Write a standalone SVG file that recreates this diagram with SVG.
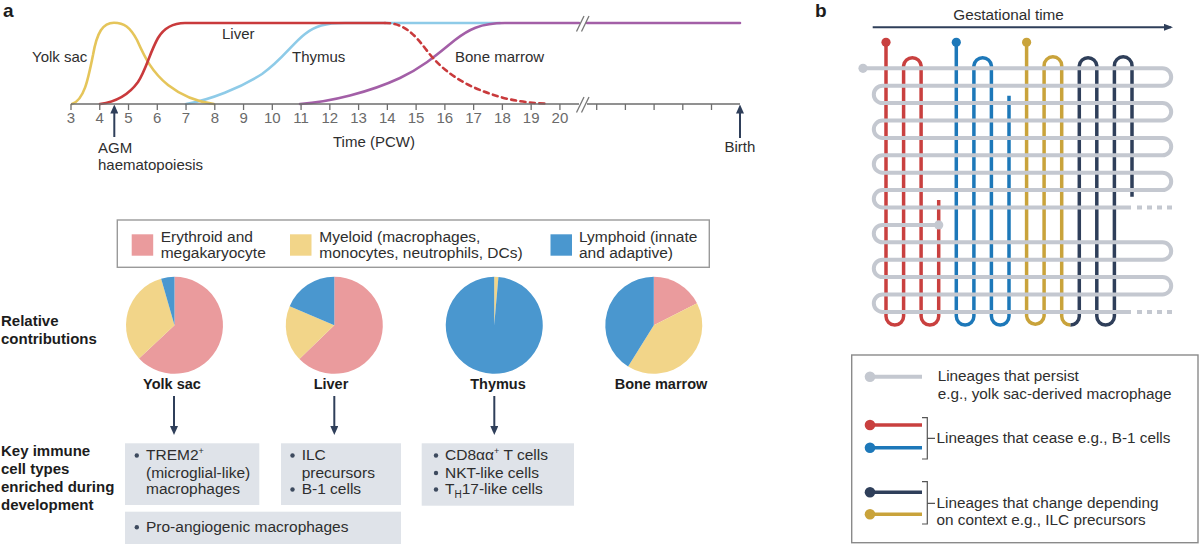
<svg xmlns="http://www.w3.org/2000/svg" width="1200" height="544" viewBox="0 0 1200 544">
<style>
  text { font-family: "Liberation Sans", Arial, sans-serif; fill: #2e2e2e; }
  .lbl { font-size: 15px; }
  .num { font-size: 15px; fill: #6a6a6a; text-anchor: middle; }
  .leg { font-size: 15.5px; }
  .bx { font-size: 15.5px; }
  .lb { font-size: 15.3px; }
  .bold { font-weight: bold; fill: #1c1c1c; font-size: 15px; }
  .pl { font-weight: bold; fill: #1c1c1c; font-size: 14.5px; text-anchor: middle; }
  .panel { font-weight: bold; fill: #1c1c1c; font-size: 19px; }
  .axis { stroke: #6e6e6e; stroke-width: 1.5; fill: none; }
  .tick { stroke: #6e6e6e; stroke-width: 1.3; }
  .brk { stroke: #777; stroke-width: 1.3; }
  .curve { fill: none; stroke-width: 2.6; stroke-linecap: round; }
  .arr { stroke: #2f3f5a; stroke-width: 2; fill: none; }
  .box { fill: #dfe3e9; }
  .bul { fill: #3d4a5e; }
  .pink { fill: #ea9b9d; }
  .yel { fill: #f2d589; }
  .blu { fill: #4a97cf; }
  .grey { stroke: #c4c8d0; stroke-width: 4; fill: none; }
  .lin { stroke-width: 3.5; fill: none; }
  .brkt { stroke: #555; stroke-width: 1.2; fill: none; }
</style>
<defs>
  <marker id="ah" viewBox="0 0 9 8" refX="6" refY="4" markerWidth="9" markerHeight="8" markerUnits="userSpaceOnUse" orient="auto">
    <path d="M0 0 L9 4 L0 8 z" fill="#2f3f5a"/>
  </marker>
  <marker id="ah2" viewBox="0 0 9 7" refX="7" refY="3.5" markerWidth="9" markerHeight="7" markerUnits="userSpaceOnUse" orient="auto">
    <path d="M0 0 L9 3.5 L0 7 z" fill="#2f3f5a"/>
  </marker>
</defs>
<rect width="1200" height="544" fill="#ffffff"/>

<!-- Panel labels -->
<text class="panel" x="3" y="17">a</text>
<text class="panel" x="815" y="17">b</text>

<!-- Timeline -->
<g id="timeline">
  <path class="curve" stroke="#8ecbe8" d="M186 104 C210 100 240 88 262 74 C282 60 292 44 305 34 C315 26 325 23 345 23 H500"/>
  <path class="curve" stroke="#e5c55a" d="M72 104 C84 100 88 80 93 55 C97 32 103 22.7 114 22.7 C124 22.7 130 27 137 40 C145 58 152 72 168 85 C182 96 198 102 214 104"/>
  <path class="curve" stroke="#c93a3c" d="M100 104 C115 102 128 96 138 82 C146 70 150 52 158 38 C164 28 172 23 185 23 H385"/>
  <path class="curve" stroke="#a35fa7" d="M300 104 C330 102 370 92 400 78 C425 66 440 52 455 40 C468 30 480 23 505 23 H579 M587 23 H740"/>
  <path class="curve" stroke="#c93a3c" stroke-dasharray="5 4.5" stroke-linecap="butt" d="M385 23 C405 23 415 35 428 52 C442 70 460 82 480 90 C500 98 520 103 547 103.5"/>
  <line class="brk" x1="576.5" y1="31.5" x2="584" y2="16"/>
  <line class="brk" x1="581.5" y1="31.5" x2="589" y2="16"/>

  <path class="axis" d="M71 104 H579 M587 104 H740"/>
  <line class="brk" x1="576.5" y1="112.5" x2="584" y2="97"/>
  <line class="brk" x1="581.5" y1="112.5" x2="589" y2="97"/>
  <g class="tick">
    <line x1="71" y1="104" x2="71" y2="110"/>
    <line x1="99.76" y1="104" x2="99.76" y2="110"/>
    <line x1="128.52" y1="104" x2="128.52" y2="110"/>
    <line x1="157.28" y1="104" x2="157.28" y2="110"/>
    <line x1="186.04" y1="104" x2="186.04" y2="110"/>
    <line x1="214.8" y1="104" x2="214.8" y2="110"/>
    <line x1="243.56" y1="104" x2="243.56" y2="110"/>
    <line x1="272.32" y1="104" x2="272.32" y2="110"/>
    <line x1="301.08" y1="104" x2="301.08" y2="110"/>
    <line x1="329.84" y1="104" x2="329.84" y2="110"/>
    <line x1="358.6" y1="104" x2="358.6" y2="110"/>
    <line x1="387.36" y1="104" x2="387.36" y2="110"/>
    <line x1="416.12" y1="104" x2="416.12" y2="110"/>
    <line x1="444.88" y1="104" x2="444.88" y2="110"/>
    <line x1="473.64" y1="104" x2="473.64" y2="110"/>
    <line x1="502.4" y1="104" x2="502.4" y2="110"/>
    <line x1="531.16" y1="104" x2="531.16" y2="110"/>
    <line x1="559.92" y1="104" x2="559.92" y2="110"/>
    <line x1="596.7" y1="104" x2="596.7" y2="110"/>
    <line x1="625.4" y1="104" x2="625.4" y2="110"/>
    <line x1="654.1" y1="104" x2="654.1" y2="110"/>
    <line x1="682.8" y1="104" x2="682.8" y2="110"/>
    <line x1="711.5" y1="104" x2="711.5" y2="110"/>
  </g>
  <g>
    <text class="num" x="71" y="122.7">3</text>
    <text class="num" x="99.76" y="122.7">4</text>
    <text class="num" x="128.52" y="122.7">5</text>
    <text class="num" x="157.28" y="122.7">6</text>
    <text class="num" x="186.04" y="122.7">7</text>
    <text class="num" x="214.8" y="122.7">8</text>
    <text class="num" x="243.56" y="122.7">9</text>
    <text class="num" x="272.32" y="122.7">10</text>
    <text class="num" x="301.08" y="122.7">11</text>
    <text class="num" x="329.84" y="122.7">12</text>
    <text class="num" x="358.6" y="122.7">13</text>
    <text class="num" x="387.36" y="122.7">14</text>
    <text class="num" x="416.12" y="122.7">15</text>
    <text class="num" x="444.88" y="122.7">16</text>
    <text class="num" x="473.64" y="122.7">17</text>
    <text class="num" x="502.4" y="122.7">18</text>
    <text class="num" x="531.16" y="122.7">19</text>
    <text class="num" x="559.92" y="122.7">20</text>
  </g>
  <text class="lbl" x="32" y="61.5">Yolk sac</text>
  <text class="lbl" x="222" y="39">Liver</text>
  <text class="lbl" x="292" y="61.5">Thymus</text>
  <text class="lbl" x="455" y="61.5">Bone marrow</text>
  <text class="lbl" x="333" y="146.5">Time (PCW)</text>
  <line class="arr" x1="114.3" y1="137" x2="114.3" y2="107.5" marker-end="url(#ah)"/>
  <text class="lbl" x="98" y="153.3">AGM</text>
  <text class="lbl" x="98" y="169.5">haematopoiesis</text>
  <line class="arr" x1="740" y1="138" x2="740" y2="107.5" marker-end="url(#ah)"/>
  <text class="lbl" x="724.5" y="152">Birth</text>
</g>

<!-- Legend a -->
<g id="legend-a">
  <rect x="117.3" y="220" width="592" height="47.3" fill="#fff" stroke="#9a9a9a" stroke-width="1.4"/>
  <rect class="pink" x="131.7" y="234.3" width="21.5" height="21.4"/>
  <text class="leg" x="160.7" y="241.7">Erythroid and</text>
  <text class="leg" x="160.7" y="258.3">megakaryocyte</text>
  <rect class="yel" x="290" y="234.3" width="21.5" height="21.4"/>
  <text class="leg" x="319.3" y="241.7">Myeloid (macrophages,</text>
  <text class="leg" x="319.3" y="258.3">monocytes, neutrophils, DCs)</text>
  <rect class="blu" x="550.5" y="234.3" width="21.5" height="21.4"/>
  <text class="leg" x="579" y="241.7">Lymphoid (innate</text>
  <text class="leg" x="579" y="258.3">and adaptive)</text>
</g>

<!-- Row labels -->
<g id="row-labels">
  <text class="bold" x="1" y="325.7">Relative</text>
  <text class="bold" x="1" y="344">contributions</text>
  <text class="bold" x="1" y="455.5">Key immune</text>
  <text class="bold" x="1" y="473.5">cell types</text>
  <text class="bold" x="1" y="491.8">enriched during</text>
  <text class="bold" x="1" y="510">development</text>
</g>

<!-- Pies -->
<g id="pie-yolk-sac">
  <path class="pink" d="M174.5 325.3 L174.5 276.8 A48.5 48.5 0 1 1 139.03 358.38 Z"/>
  <path class="yel" d="M174.5 325.3 L139.03 358.38 A48.5 48.5 0 0 1 161.13 278.68 Z"/>
  <path class="blu" d="M174.5 325.3 L161.13 278.68 A48.5 48.5 0 0 1 174.5 276.8 Z"/>
  <text class="pl" x="172" y="389">Yolk sac</text>
</g>
<g id="pie-liver">
  <path class="pink" d="M334.3 325.3 L334.3 276.8 A48.5 48.5 0 1 1 299.41 358.99 Z"/>
  <path class="yel" d="M334.3 325.3 L299.41 358.99 A48.5 48.5 0 0 1 289.66 306.35 Z"/>
  <path class="blu" d="M334.3 325.3 L289.66 306.35 A48.5 48.5 0 0 1 334.3 276.8 Z"/>
  <text class="pl" x="331" y="389">Liver</text>
</g>
<g id="pie-thymus">
  <path class="yel" d="M494.2 325.3 L494.2 276.8 A48.5 48.5 0 0 1 498.43 276.98 Z"/>
  <path class="blu" d="M494.2 325.3 L498.43 276.98 A48.5 48.5 0 1 1 494.2 276.8 Z"/>
  <text class="pl" x="498" y="389">Thymus</text>
</g>
<g id="pie-bone-marrow">
  <path class="pink" d="M653.8 325.3 L653.8 276.8 A48.5 48.5 0 0 1 697.01 303.28 Z"/>
  <path class="yel" d="M653.8 325.3 L697.01 303.28 A48.5 48.5 0 0 1 628.1 366.43 Z"/>
  <path class="blu" d="M653.8 325.3 L628.1 366.43 A48.5 48.5 0 0 1 653.8 276.8 Z"/>
  <text class="pl" x="661" y="389">Bone marrow</text>
</g>

<!-- Connectors -->
<g id="connectors">
  <line class="arr" x1="174" y1="396" x2="174" y2="432" marker-end="url(#ah)"/>
  <line class="arr" x1="334.3" y1="396" x2="334.3" y2="432" marker-end="url(#ah)"/>
  <line class="arr" x1="494.3" y1="396" x2="494.3" y2="432" marker-end="url(#ah)"/>
</g>

<!-- Boxes -->
<g id="box-yolk-sac">
  <rect class="box" x="125" y="443.3" width="134.3" height="61.7"/>
  <circle class="bul" cx="136.8" cy="455.5" r="2.2"/>
  <text class="bx" x="146" y="460">TREM2<tspan font-size="9" dy="-6">+</tspan></text>
  <text class="bx" x="146" y="477.5">(microglial-like)</text>
  <text class="bx" x="146" y="494">macrophages</text>
</g>
<g id="box-liver">
  <rect class="box" x="281" y="443.3" width="120" height="61.7"/>
  <circle class="bul" cx="292.5" cy="455.5" r="2.2"/>
  <text class="bx" x="301.7" y="460">ILC</text>
  <text class="bx" x="301.7" y="477.5">precursors</text>
  <circle class="bul" cx="292.5" cy="489.5" r="2.2"/>
  <text class="bx" x="301.7" y="494">B-1 cells</text>
</g>
<g id="box-thymus">
  <rect class="box" x="421.7" y="443.3" width="152.3" height="62.4"/>
  <circle class="bul" cx="436" cy="455.5" r="2.2"/>
  <text class="bx" x="445" y="460">CD8αα<tspan font-size="9" dy="-6">+</tspan><tspan dy="6"> T cells</tspan></text>
  <circle class="bul" cx="436" cy="473" r="2.2"/>
  <text class="bx" x="445" y="477.5">NKT-like cells</text>
  <circle class="bul" cx="436" cy="489.5" r="2.2"/>
  <text class="bx" x="445" y="494">T<tspan font-size="10" dy="3.5">H</tspan><tspan dy="-3.5">17-like cells</tspan></text>
</g>
<g id="box-shared">
  <rect class="box" x="125" y="511.7" width="276" height="32.3"/>
  <circle class="bul" cx="136.8" cy="527.2" r="2.2"/>
  <text class="bx" x="146" y="531.7">Pro-angiogenic macrophages</text>
</g>

<!-- Panel b -->
<g id="panel-b">
  <line class="arr" stroke-width="1.8" x1="872.7" y1="27.3" x2="1171" y2="27.3" marker-end="url(#ah2)"/>
  <text class="lb" x="953.3" y="20">Gestational time</text>

  <g id="lineages-colored">
    <path class="lin" stroke="#c9403f" d="M886 42.3 V316.2 A8.79 8.79 0 0 0 903.6 316.2 V65.6 A8.79 8.79 0 0 1 921.1 65.6 V316.2 A8.79 8.79 0 0 0 938.7 316.2 V200"/>
    <circle cx="886" cy="42.3" r="4.6" fill="#c9403f"/>
    <path class="lin" stroke="#1d78b9" d="M956.3 42.3 V316.2 A8.79 8.79 0 0 0 973.9 316.2 V65.6 A8.79 8.79 0 0 1 991.4 65.6 V316.2 A8.79 8.79 0 0 0 1009 316.2 V95.7"/>
    <circle cx="956.3" cy="42.3" r="4.6" fill="#1d78b9"/>
    <path class="lin" stroke="#c9a33b" d="M1026.6 42.3 V316.2 A8.79 8.79 0 0 0 1044.1 316.2 V65.6 A8.79 8.79 0 0 1 1061.7 65.6 V316.2 A8.79 8.79 0 0 0 1070.5 325"/>
    <circle cx="1026.6" cy="42.3" r="4.6" fill="#c9a33b"/>
    <path class="lin" stroke="#2f3f5a" d="M1070.5 325 A8.79 8.79 0 0 0 1079.3 316.2 V65.6 A8.79 8.79 0 0 1 1096.8 65.6 V316.2 A8.79 8.79 0 0 0 1114.4 316.2 V65.6 A8.79 8.79 0 0 1 1132 65.6 V196.7"/>
  </g>

  <g id="lineages-persist">
    <path class="grey" d="M863 68.3 H1162.5 A8.7 8.7 0 0 1 1162.5 85.7 H882.5 A8.7 8.7 0 0 0 882.5 103.1 H1162.5 A8.7 8.7 0 0 1 1162.5 120.5 H882.5 A8.7 8.7 0 0 0 882.5 137.9 H1162.5 A8.7 8.7 0 0 1 1162.5 155.3 H882.5 A8.7 8.7 0 0 0 882.5 172.7 H1162.5 A8.7 8.7 0 0 1 1162.5 190.1 H882.5 A8.7 8.7 0 0 0 882.5 207.5 H1131"/>
    <path class="grey" stroke-dasharray="5 5" d="M1137 207.5 H1172"/>
    <path class="grey" d="M938.7 224.9 H882.5 A8.7 8.7 0 0 0 882.5 242.3 H1162.5 A8.7 8.7 0 0 1 1162.5 259.7 H882.5 A8.7 8.7 0 0 0 882.5 277.1 H1162.5 A8.7 8.7 0 0 1 1162.5 294.5 H882.5 A8.7 8.7 0 0 0 882.5 311.9 H1131"/>
    <path class="grey" stroke-dasharray="5 5" d="M1137 311.9 H1172"/>
    <circle cx="863" cy="68.3" r="4.6" fill="#c4c8d0"/>
    <circle cx="938.7" cy="224.9" r="4.6" fill="#c4c8d0"/>
  </g>
</g>

<!-- Legend b -->
<g id="legend-b">
  <rect x="851.7" y="355" width="346.3" height="187.7" fill="#fff" stroke="#8a8a8a" stroke-width="1.4"/>
  <line class="grey" x1="870" y1="376.7" x2="922" y2="376.7"/>
  <circle cx="870" cy="376.7" r="5.3" fill="#c4c8d0"/>
  <text class="lb" x="937.7" y="381">Lineages that persist</text>
  <text class="lb" x="937.7" y="398.5">e.g., yolk sac-derived macrophage</text>

  <line class="lin" stroke="#c9403f" x1="870" y1="425" x2="922" y2="425"/>
  <circle cx="870" cy="425" r="5.3" fill="#c9403f"/>
  <line class="lin" stroke="#1d78b9" x1="870" y1="447.7" x2="922" y2="447.7"/>
  <circle cx="870" cy="447.7" r="5.3" fill="#1d78b9"/>
  <path class="brkt" d="M922 417.7 H927.3 V459 H922 M927.3 438.3 H935"/>
  <text class="lb" x="936.5" y="443.3">Lineages that cease e.g., B-1 cells</text>

  <line class="lin" stroke="#2f3f5a" x1="870" y1="492.3" x2="922" y2="492.3"/>
  <circle cx="870" cy="492.3" r="5.3" fill="#2f3f5a"/>
  <line class="lin" stroke="#c9a33b" x1="870" y1="514.3" x2="922" y2="514.3"/>
  <circle cx="870" cy="514.3" r="5.3" fill="#c9a33b"/>
  <path class="brkt" d="M922 481.7 H927.3 V524 H922 M927.3 503.3 H935"/>
  <text class="lb" x="936.5" y="507.7">Lineages that change depending</text>
  <text class="lb" x="936.5" y="525">on context e.g., ILC precursors</text>
</g>
</svg>
